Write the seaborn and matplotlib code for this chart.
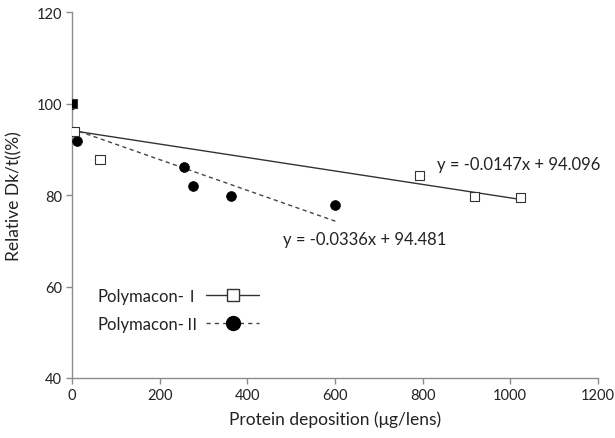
import matplotlib
matplotlib.use("Agg")
import matplotlib.pyplot as plt
from matplotlib.lines import Line2D
import seaborn as sns
import numpy as np
import pandas as pd

# Data
p1_x = [0, 5, 64, 793, 918, 1023]
p1_y = [100, 93.9, 87.8, 84.3, 79.7, 79.4]
p2_x = [0, 11, 255, 276, 362, 601]
p2_y = [100, 91.9, 86.2, 81.9, 79.7, 77.9]
fit1 = (-0.0147, 94.096)
fit2 = (-0.0336, 94.481)
x_ticks = [0, 200, 400, 600, 800, 1000, 1200]
y_ticks = [40, 60, 80, 100, 120]
labels = ["Polymacon-\u2160", "Polymacon-\u2161"]

sns.set_theme(style="white")
plt.rcParams['font.family'] = ['Lato', 'Noto Sans CJK JP', 'DejaVu Sans']

fig = plt.figure(figsize=(6.15, 4.39), dpi=100)
ax = fig.add_axes([0.117, 0.1367, 0.855, 0.8333])

gray = "#8c8c8c"
txt = "#222222"

# Trend lines
fx1 = np.array([0, max(p1_x)])
fx2 = np.array([0, max(p2_x)])
sns.lineplot(x=fx1, y=fit1[0] * fx1 + fit1[1], ax=ax, color="#333333", lw=1.0)
sns.lineplot(x=fx2, y=fit2[0] * fx2 + fit2[1], ax=ax, color="#444444", lw=1.0,
             linestyle=(0, (3, 2.5)))

# Points
df1 = pd.DataFrame({"x": p1_x, "y": p1_y})
df2 = pd.DataFrame({"x": p2_x, "y": p2_y})
sns.scatterplot(data=df2, x="x", y="y", ax=ax, marker="o", s=50,
                color="black", edgecolor="black", linewidth=0.5, zorder=3)
# overlapping start point renders as a filled square
faces = ["black" if (x == p2_x[0] and y == p2_y[0]) else "white" for x, y in zip(p1_x, p1_y)]
sns.scatterplot(data=df1, x="x", y="y", ax=ax, marker="s", s=44,
                facecolor=faces, edgecolor="#333333", linewidth=0.8, zorder=4)

ax.set_xlim(0, 1200)
ax.set_ylim(40, 120)
ax.set_xticks(x_ticks)
ax.set_yticks(y_ticks)
for s in ["top", "right"]:
    ax.spines[s].set_visible(False)
for s in ["left", "bottom"]:
    ax.spines[s].set_color(gray)
    ax.spines[s].set_linewidth(1.0)
ax.tick_params(axis="both", which="both", direction="out", length=4, width=1,
               color=gray, labelsize=10.5, labelcolor=txt, pad=3)
ax.tick_params(left=True, bottom=True)
ax.grid(False)

ax.set_xlabel("Protein deposition (\u03bcg/lens)", fontsize=12.5, color=txt, labelpad=6)
ax.set_ylabel("Relative Dk/t((%)", fontsize=12.5, color=txt, labelpad=10)

ax.annotate("y = -0.0147x + 94.096", xy=(1020, 86.9), fontsize=12, ha="center",
            va="center", color=txt)
ax.annotate("y = -0.0336x + 94.481", xy=(667, 70.3), fontsize=12, ha="center",
            va="center", color=txt)

h1 = Line2D([], [], color="#333333", lw=1.0, marker="s", markersize=9,
            markerfacecolor="white", markeredgecolor="#333333")
h2 = Line2D([], [], color="#444444", lw=1.0, linestyle=(0, (3, 3)), marker="o",
            markersize=10, markerfacecolor="black", markeredgecolor="black")
leg = ax.legend([h1, h2], labels, loc="lower left",
                bbox_to_anchor=(0.02, 0.085), frameon=False, markerfirst=False,
                fontsize=12, handlelength=3.2, handletextpad=0.3, labelspacing=0.7)
for t in leg.get_texts():
    t.set_color(txt)

fig.savefig("out.png", dpi=100)
